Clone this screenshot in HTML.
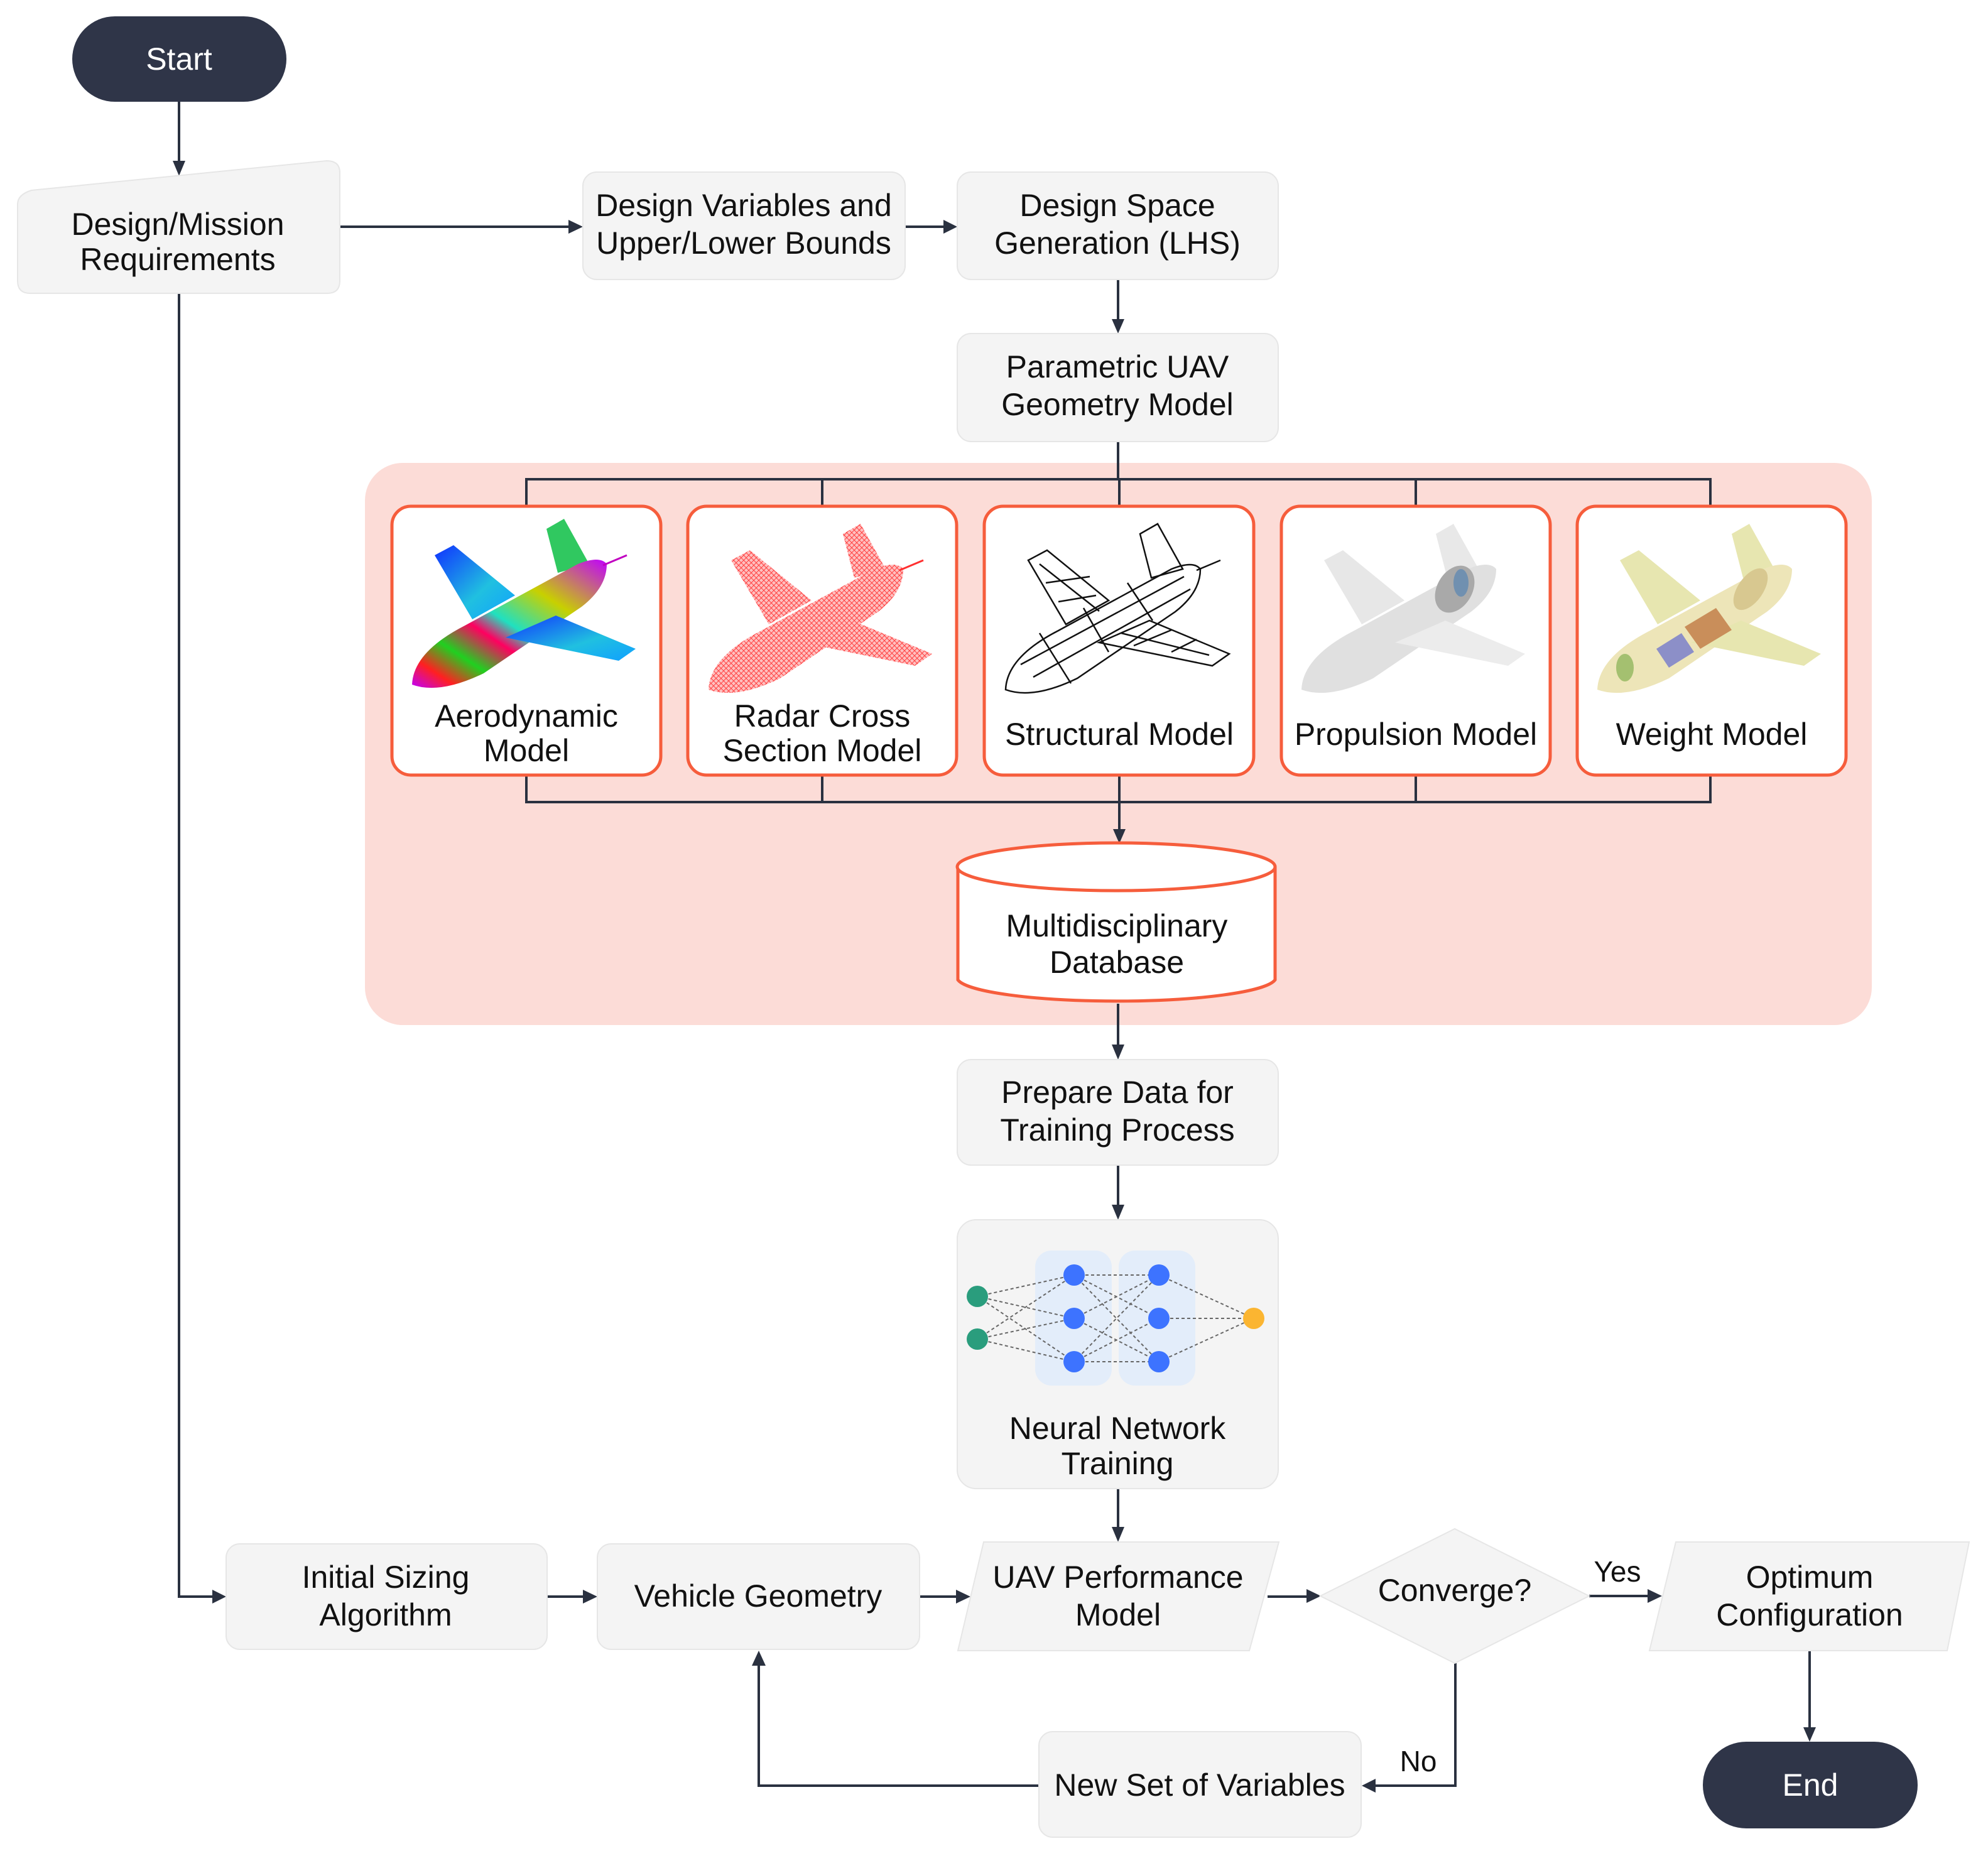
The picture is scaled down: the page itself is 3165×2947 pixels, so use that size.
<!DOCTYPE html>
<html><head><meta charset="utf-8"><style>
html,body{margin:0;padding:0;background:#fff;}
svg{display:block;}
text{font-family:"Liberation Sans","DejaVu Sans",sans-serif;font-size:50px;fill:#111;text-anchor:middle;}
</style></head><body>
<svg width="3165" height="2947" viewBox="0 0 3165 2947" xmlns="http://www.w3.org/2000/svg">
<defs>
<linearGradient id="rb" x1="0" y1="1" x2="1" y2="0">
<stop offset="0" stop-color="#c000ff"/><stop offset="0.12" stop-color="#ff2020"/><stop offset="0.25" stop-color="#20d020"/><stop offset="0.4" stop-color="#ff0060"/><stop offset="0.5" stop-color="#20e0c0"/><stop offset="0.7" stop-color="#c8d000"/><stop offset="1" stop-color="#c000ff"/>
</linearGradient>
<linearGradient id="wg" x1="0" y1="0" x2="1" y2="1">
<stop offset="0" stop-color="#1030ff"/><stop offset="0.6" stop-color="#20c0e0"/><stop offset="1" stop-color="#10a0ff"/>
</linearGradient>
<pattern id="hatch" width="8" height="8" patternUnits="userSpaceOnUse">
<rect width="8" height="8" fill="#ffc0c0"/><path d="M0 0L8 8M8 0L0 8" stroke="#ff4040" stroke-width="1"/>
</pattern>
<g id="wingL"><path d="M72,84 L102,68 L200,148 L132,186 Z"/></g>
<g id="wingR"><path d="M185,215 L265,180 L392,233 L365,252 Z"/></g>
<g id="fin"><path d="M250,42 L278,26 L318,98 L268,112 Z"/></g>
<g id="fus"><path d="M36,290 Q38,238 120,196 L300,98 Q335,84 346,98 Q346,135 306,166 L150,272 Q80,306 36,290 Z"/></g>
</defs>

<rect x="581" y="737" width="2399" height="895" rx="60" fill="#fcdcd7"/>

<g fill="none" stroke="#2a3140" stroke-width="4">
<line x1="285" y1="162" x2="285" y2="260"/>
<line x1="541" y1="361" x2="905" y2="361"/>
<line x1="1441" y1="361" x2="1502" y2="361"/>
<line x1="1780" y1="445" x2="1780" y2="510"/>
<line x1="1780" y1="703" x2="1780" y2="763"/>
<polyline points="838,806 838,763 2723,763 2723,806"/>
<line x1="1309" y1="763" x2="1309" y2="806"/>
<line x1="2254" y1="763" x2="2254" y2="806"/>
<line x1="1782" y1="763" x2="1782" y2="806"/>
<polyline points="838,1234 838,1277 2723,1277 2723,1234"/>
<line x1="1309" y1="1234" x2="1309" y2="1277"/>
<line x1="2254" y1="1234" x2="2254" y2="1277"/>
<line x1="1782" y1="1234" x2="1782" y2="1322"/>
<line x1="1780" y1="1598" x2="1780" y2="1665"/>
<line x1="1780" y1="1855" x2="1780" y2="1920"/>
<line x1="1780" y1="2370" x2="1780" y2="2432"/>
<polyline points="285,467 285,2542 340,2542"/>
<line x1="871" y1="2542" x2="930" y2="2542"/>
<line x1="1464" y1="2542" x2="1525" y2="2542"/>
<line x1="2018" y1="2542" x2="2082" y2="2542"/>
<line x1="2530" y1="2541" x2="2625" y2="2541"/>
<line x1="2881" y1="2628" x2="2881" y2="2752"/>
<polyline points="2317,2648 2317,2843 2190,2843"/>
<polyline points="1654,2843 1208,2843 1208,2650"/>
</g>
<g fill="#2a3140">
<polygon points="275,256 295,256 285,280"/>
<polygon points="905,350 905,372 928,361"/>
<polygon points="1502,350 1502,372 1524,361"/>
<polygon points="1770,508 1790,508 1780,531"/>
<polygon points="1772,1320 1792,1320 1782,1343"/>
<polygon points="1770,1663 1790,1663 1780,1687"/>
<polygon points="1770,1918 1790,1918 1780,1942"/>
<polygon points="1770,2431 1790,2431 1780,2455"/>
<polygon points="338,2531 338,2553 360,2542"/>
<polygon points="928,2531 928,2553 951,2542"/>
<polygon points="1522,2531 1522,2553 1545,2542"/>
<polygon points="2080,2530 2080,2552 2103,2541"/>
<polygon points="2623,2530 2623,2552 2646,2541"/>
<polygon points="2871,2750 2891,2750 2881,2773"/>
<polygon points="2190,2832 2190,2854 2168,2843"/>
<polygon points="1197,2652 1219,2652 1208,2628"/>
</g>

<rect x="115" y="26" width="341" height="136" rx="68" fill="#2f3548"/>
<text x="285" y="111" style="fill:#fff">Start</text>
<rect x="2711" y="2773" width="342" height="138" rx="69" fill="#2f3548"/>
<text x="2882" y="2859" style="fill:#fff">End</text>

<g fill="#f4f4f4" stroke="#e6e6e6" stroke-width="2">
<path d="M28,325 Q28,310 50,303 L520,256 Q541,256 541,275 L541,447 Q541,467 521,467 L48,467 Q28,467 28,447 Z"/>
<rect x="928" y="274" width="513" height="171" rx="22"/>
<rect x="1524" y="274" width="511" height="171" rx="22"/>
<rect x="1524" y="531" width="511" height="172" rx="22"/>
<rect x="1524" y="1687" width="511" height="168" rx="22"/>
<rect x="1524" y="1942" width="511" height="428" rx="30"/>
<rect x="360" y="2458" width="511" height="168" rx="22"/>
<rect x="951" y="2458" width="513" height="168" rx="22"/>
<polygon points="1566,2455 2036,2455 1989,2628 1525,2628"/>
<polygon points="2316,2434 2530,2541 2316,2648 2102,2541"/>
<polygon points="2668,2455 3135,2455 3100,2628 2626,2628"/>
<rect x="1654" y="2757" width="513" height="168" rx="22"/>
</g>

<text x="283" y="374">Design/Mission</text>
<text x="283" y="430">Requirements</text>
<text x="1184" y="344">Design Variables and</text>
<text x="1184" y="404">Upper/Lower Bounds</text>
<text x="1779" y="344">Design Space</text>
<text x="1779" y="404">Generation (LHS)</text>
<text x="1779" y="601">Parametric UAV</text>
<text x="1779" y="661">Geometry Model</text>
<text x="1779" y="1756">Prepare Data for</text>
<text x="1779" y="1816">Training Process</text>
<text x="1779" y="2291">Neural Network</text>
<text x="1779" y="2347">Training</text>
<text x="614" y="2528">Initial Sizing</text>
<text x="614" y="2588">Algorithm</text>
<text x="1207" y="2558">Vehicle Geometry</text>
<text x="1780" y="2528">UAV Performance</text>
<text x="1780" y="2588">Model</text>
<text x="2316" y="2549">Converge?</text>
<text x="2881" y="2528">Optimum</text>
<text x="2881" y="2588">Configuration</text>
<text x="1910" y="2859">New Set of Variables</text>
<text x="2575" y="2518" style="font-size:46px">Yes</text>
<text x="2258" y="2820" style="font-size:46px">No</text>

<rect x="1648" y="1991" width="122" height="215" rx="26" fill="#e3edfa"/>
<rect x="1781" y="1991" width="122" height="215" rx="26" fill="#e3edfa"/>
<g stroke="#666" stroke-width="2" stroke-dasharray="5,4" fill="none">
<path d="M1556,2064L1710,2030M1556,2064L1710,2099M1556,2064L1710,2168M1556,2132L1710,2030M1556,2132L1710,2099M1556,2132L1710,2168"/>
<path d="M1710,2030L1845,2030M1710,2030L1845,2099M1710,2030L1845,2168M1710,2099L1845,2030M1710,2099L1845,2168M1710,2168L1845,2030M1710,2168L1845,2099M1710,2168L1845,2168"/>
<path d="M1845,2030L1996,2099M1845,2099L1996,2099M1845,2168L1996,2099"/>
</g>
<g fill="#2a9d7d"><circle cx="1556" cy="2064" r="17"/><circle cx="1556" cy="2132" r="17"/></g>
<g fill="#3d73ff"><circle cx="1710" cy="2030" r="17"/><circle cx="1710" cy="2099" r="17"/><circle cx="1710" cy="2168" r="17"/><circle cx="1845" cy="2030" r="17"/><circle cx="1845" cy="2099" r="17"/><circle cx="1845" cy="2168" r="17"/></g>
<circle cx="1996" cy="2099" r="17" fill="#fbb531"/>

<g fill="#fff" stroke="#f65d3c" stroke-width="5">
<rect x="624" y="806" width="428" height="428" rx="30"/>
<rect x="1095" y="806" width="428" height="428" rx="30"/>
<rect x="1567" y="806" width="429" height="428" rx="30"/>
<rect x="2040" y="806" width="428" height="428" rx="30"/>
<rect x="2511" y="806" width="428" height="428" rx="30"/>
</g>
<g transform="translate(620,800)">
<use href="#wingL" fill="url(#wg)"/><use href="#fin" fill="#30c860"/><use href="#fus" fill="url(#rb)"/><use href="#wingR" fill="url(#wg)"/>
<line x1="340" y1="100" x2="378" y2="84" stroke="#c000c0" stroke-width="3"/>
</g>
<g transform="translate(1092,808)">
<use href="#wingL" fill="url(#hatch)"/><use href="#fin" fill="url(#hatch)"/><use href="#fus" fill="url(#hatch)"/><use href="#wingR" fill="url(#hatch)"/>
<line x1="340" y1="100" x2="378" y2="84" stroke="#ff3030" stroke-width="3"/>
</g>
<g transform="translate(1565,808)" stroke="#111" stroke-width="2.5" fill="none">
<use href="#wingL"/><use href="#fin"/><use href="#fus"/><use href="#wingR"/>
<path d="M90,90L185,165M100,120L170,110M120,150L180,140M220,200L360,235M240,220L300,195M300,230L340,210M60,250L320,110M80,270L330,130M90,200L140,280M160,160L200,230M230,120L270,180"/>
<line x1="340" y1="100" x2="378" y2="84"/>
</g>
<g transform="translate(2036,808)">
<use href="#wingL" fill="#e4e4e4" fill-opacity="0.9"/><use href="#fin" fill="#e8e8e8"/><use href="#fus" fill="#e0e0e0"/><use href="#wingR" fill="#ececec"/>
<ellipse cx="280" cy="130" rx="28" ry="40" fill="#a9a9a9" transform="rotate(30 280 130)"/>
<ellipse cx="290" cy="120" rx="12" ry="22" fill="#7090b0"/>
</g>
<g transform="translate(2507,808)">
<use href="#wingL" fill="#e7e6b0"/><use href="#fin" fill="#e7e6b0"/><use href="#fus" fill="#ede5b8"/><use href="#wingR" fill="#e7e6b0"/>
<polygon points="175,190 225,160 250,195 200,225" fill="#c98e5a"/>
<polygon points="130,225 170,200 190,230 150,255" fill="#8c8fc8"/>
<ellipse cx="80" cy="255" rx="14" ry="22" fill="#a4c070"/>
<ellipse cx="280" cy="130" rx="20" ry="38" fill="#d8c890" transform="rotate(35 280 130)"/>
</g>
<text x="838" y="1157">Aerodynamic</text>
<text x="838" y="1212">Model</text>
<text x="1309" y="1157">Radar Cross</text>
<text x="1309" y="1212">Section Model</text>
<text x="1782" y="1186">Structural Model</text>
<text x="2254" y="1186">Propulsion Model</text>
<text x="2725" y="1186">Weight Model</text>

<path d="M1525,1380 L1525,1560 A254,38 0 0 0 2030,1560 L2030,1380" fill="#fff" stroke="#f65d3c" stroke-width="5"/>
<ellipse cx="1777" cy="1380" rx="253" ry="38" fill="#fff" stroke="#f65d3c" stroke-width="5"/>
<text x="1778" y="1491">Multidisciplinary</text>
<text x="1778" y="1549">Database</text>
</svg>
</body></html>
